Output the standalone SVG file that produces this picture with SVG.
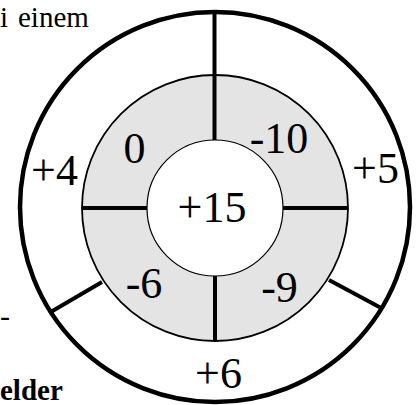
<svg xmlns="http://www.w3.org/2000/svg" width="420" height="405" viewBox="0 0 420 405">
<style>
text{font-family:'Liberation Serif','Times New Roman',serif;fill:#000}
.n{font-size:44px;text-anchor:middle}
.d{stroke:#000;stroke-width:4;fill:none}
</style>
<rect width="420" height="405" fill="#fff"/>
<text font-size="29" y="27"><tspan x="0">i</tspan><tspan x="18">einem</tspan></text>
<text font-size="30" x="0" y="326">-</text>
<text font-size="29" font-weight="bold" x="0" y="400">elder</text>
<g id="outer"><circle cx="215" cy="207" r="195" fill="#fff" stroke="#000" stroke-width="4.5"/></g>
<g id="ring"><circle cx="215" cy="208" r="133" fill="#e4e4e4" stroke="#000" stroke-width="1.8"/></g>
<g id="center"><circle cx="215" cy="208" r="68" fill="#fff" stroke="#000" stroke-width="1.2"/></g>
<g id="connectors">
<line class="d" x1="214.5" y1="12" x2="214.5" y2="140"/>
<line class="d" x1="82" y1="208" x2="147" y2="208"/>
<line class="d" x1="283" y1="208" x2="348" y2="208"/>
<line class="d" x1="215" y1="276" x2="215" y2="341"/>
<line class="d" x1="102" y1="282" x2="49" y2="313"/>
<line class="d" x1="329" y1="280" x2="383" y2="309"/>
</g>
<g id="labels">
<text class="n" x="54.5" y="185">+4</text>
<text class="n" x="134.5" y="163">0</text>
<text class="n" x="279" y="153">-10</text>
<text class="n" x="375.5" y="183">+5</text>
<text class="n" x="212" y="222">+15</text>
<text class="n" x="144" y="298">-6</text>
<text class="n" x="279.5" y="302">-9</text>
<text class="n" x="218.5" y="388">+6</text>
</g>
</svg>
